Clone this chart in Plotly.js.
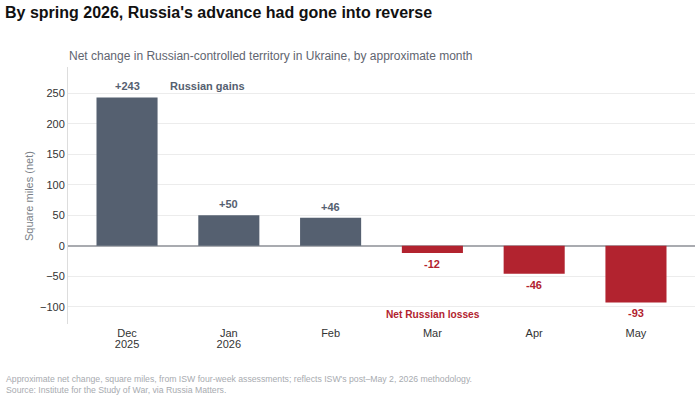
<!DOCTYPE html>
<html>
<head>
<meta charset="utf-8">
<script src="https://cdn.plot.ly/plotly-3.0.1.min.js"></script>
<style>
  html, body { margin: 0; padding: 0; background: #fff; }
  #chart { width: 700px; height: 399px; }
</style>
</head>
<body>
<div id="chart"></div>
<script>
// Net monthly change in Russian-controlled territory (square miles)
const months = ["Dec<br>2025", "Jan<br>2026", "Feb", "Mar", "Apr", "May"];
const netChange = [243, 50, 46, -12, -46, -93];

const GAIN = "#556070";
const LOSS = "#b2232f";
const FONT = "Liberation Sans, Arial, sans-serif";

const W = 700, H = 399;
const M = {l: 68, r: 5, t: 67, b: 75};
const plotW = W - M.l - M.r, plotH = H - M.t - M.b;
// convert page pixels to paper fractions
const px = x => (x - M.l) / plotW;
const py = y => (H - M.b - y) / plotH;

const barColors = netChange.map(v => v >= 0 ? GAIN : LOSS);
const labelText = netChange.map(v => (v > 0 ? "+" : "") + v);

// x tick labels: tight two-line spacing
const tickText = months.map(m => '<span style="font-size:11px">' + m.replace("<br>", '</span><br><span style="font-size:11px">') + "</span>");

const valueLabels = netChange.map((v, i) => ({
  x: months[i], y: v, xref: "x", yref: "y",
  text: "<b>" + labelText[i] + "</b>",
  showarrow: false, xanchor: "center", yanchor: "middle",
  yshift: v >= 0 ? 11 : -11,
  font: {family: FONT, size: 11, color: v >= 0 ? GAIN : LOSS}
}));

const trace = {
  type: "bar",
  x: months,
  y: netChange,
  marker: {color: barColors, line: {width: 0}},
  hoverinfo: "skip",
  showlegend: false
};

const layout = {
  width: W, height: H,
  margin: M,
  paper_bgcolor: "#ffffff", plot_bgcolor: "#ffffff",
  font: {family: FONT, color: "#333"},
  bargap: 0.4,
  title: {
    text: "<b>By spring 2026, Russia's advance had gone into reverse</b>",
    x: 5 / W, xanchor: "left", xref: "container",
    y: 1 - 12 / H, yref: "container", yanchor: "middle",
    font: {family: FONT, size: 16, color: "#111"}
  },
  xaxis: {
    type: "category",
    range: [-0.58, 5.58],
    tickvals: months, ticktext: tickText,
    showgrid: false, zeroline: false, showline: false,
    ticks: "", ticklabelstandoff: 3,
    tickfont: {family: FONT, size: 8.5, color: "#333"},
    fixedrange: true
  },
  yaxis: {
    range: [-128.4, 293],
    tickvals: [-100, -50, 0, 50, 100, 150, 200, 250],
    ticktext: ["−100", "−50", "0", "50", "100", "150", "200", "250"],
    showgrid: true, gridcolor: "#ececec", gridwidth: 1,
    zeroline: true, zerolinecolor: "#a9abb0", zerolinewidth: 2,
    showline: true, linecolor: "#dddddd", linewidth: 1,
    ticks: "", ticklen: 0,
    tickfont: {family: FONT, size: 11, color: "#333"},
    fixedrange: true
  },
  annotations: valueLabels.concat([
    {
      x: 0.40, y: 262, xref: "x", yref: "y",
      text: "<b>Russian gains</b>", showarrow: false,
      xanchor: "left", yanchor: "middle",
      font: {family: FONT, size: 11, color: GAIN}
    },
    {
      x: 2.52, y: -112, xref: "x", yref: "y",
      text: "<b>Net Russian losses</b>", showarrow: false,
      xanchor: "left", yanchor: "middle",
      font: {family: FONT, size: 10.2, color: LOSS}
    },
    {
      x: px(29), y: py(196), xref: "paper", yref: "paper",
      text: "Square miles (net)", textangle: -90,
      showarrow: false, xanchor: "center", yanchor: "middle",
      font: {family: FONT, size: 11, color: "#7a7f88"}
    },
    {
      x: px(67), y: py(56), xref: "paper", yref: "paper",
      text: "Net change in Russian-controlled territory in Ukraine, by approximate month",
      showarrow: false, xanchor: "left", yanchor: "middle",
      font: {family: FONT, size: 12, color: "#5f6570"}
    },
    {
      x: px(4), y: py(372), xref: "paper", yref: "paper",
      text: "Approximate net change, square miles, from ISW four-week assessments; reflects ISW's post–May 2, 2026 methodology.<br>Source: Institute for the Study of War, via Russia Matters.",
      showarrow: false, xanchor: "left", yanchor: "top", align: "left",
      font: {family: FONT, size: 8.7, color: "#a8abb0"}
    }
  ])
};

Plotly.newPlot("chart", [trace], layout, {displayModeBar: false, staticPlot: true});
</script>
</body>
</html>
